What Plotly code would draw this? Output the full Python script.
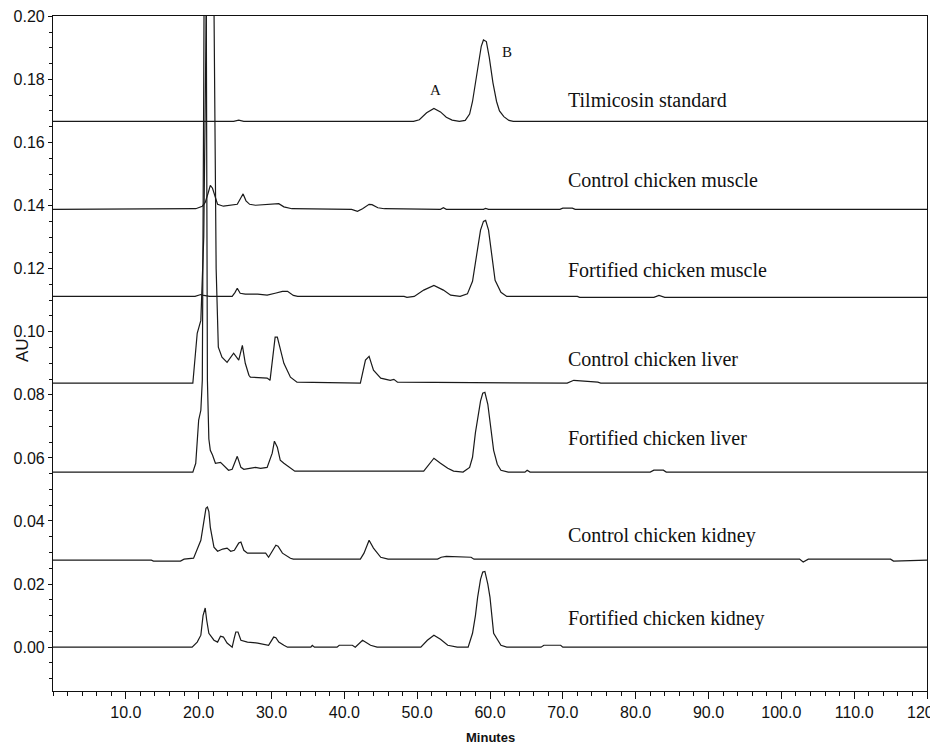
import plotly.graph_objects as go

# ---- data (minutes, AU) ----
t_standard = [0, 24.8, 25.5, 26.2, 49.5, 50.3, 51.3, 52.3, 53.2, 54.0, 54.8, 55.8, 56.6, 57.2, 57.6, 58.0,
              58.4, 58.8, 59.1, 59.5, 59.9, 60.4, 60.9, 61.3, 61.9, 62.6, 63.2, 120]
au_standard = [0.1667, 0.1667, 0.1671, 0.1667, 0.1667, 0.1672, 0.1694, 0.1708, 0.1697, 0.1680, 0.1671, 0.1667,
               0.1670, 0.1690, 0.1730, 0.1790, 0.1851, 0.1905, 0.1925, 0.1920, 0.1870, 0.1790, 0.1730, 0.1700,
               0.1682, 0.1670, 0.1667, 0.1667]

t_ctrl_muscle = [0, 18.8, 19.6, 20.5, 20.9, 21.3, 21.6, 21.9, 22.2, 22.6, 23.4, 24.4, 25.3, 25.8, 26.1, 26.5,
                 27.0, 27.8, 29.5, 30.2, 31.0, 31.7, 32.8, 41.0, 41.8, 42.5, 43.4, 43.8, 44.6, 45.5, 49.0, 49.4,
                 53.2, 53.6, 54.0, 59.1, 59.4, 59.8, 69.6, 70.0, 71.3, 71.7, 120]
au_ctrl_muscle = [0.1388, 0.1388, 0.1390, 0.1398, 0.1410, 0.1440, 0.1464, 0.1455, 0.1430, 0.1404, 0.1398,
                  0.1401, 0.1404, 0.1425, 0.1437, 0.1415, 0.1404, 0.1401, 0.1403, 0.1406, 0.1406, 0.1396,
                  0.1390, 0.1388, 0.1382, 0.1390, 0.1404, 0.1403, 0.1393, 0.1390, 0.1390, 0.1388, 0.1388,
                  0.1393, 0.1388, 0.1388, 0.1391, 0.1388, 0.1388, 0.1392, 0.1392, 0.1388, 0.1388]

t_fort_muscle = [0, 19.5, 20.3, 20.7, 21.5, 24.6, 25.0, 25.3, 25.7, 26.4, 28.1, 29.4, 30.5, 31.5, 32.2, 33.0,
                 33.6, 48.2, 48.6, 49.6, 50.9, 52.3, 53.6, 54.6, 55.9, 56.9, 57.6, 58.0, 58.3, 58.7, 59.1,
                 59.4, 59.8, 60.3, 60.7, 61.5, 62.3, 72.0, 72.3, 82.5, 83.2, 84.0, 120]
au_fort_muscle = [0.1112, 0.1112, 0.1118, 0.1115, 0.1112, 0.1112, 0.1125, 0.1138, 0.1122, 0.1119, 0.1119,
                  0.1116, 0.1122, 0.1128, 0.1128, 0.1115, 0.1112, 0.1112, 0.1109, 0.1112, 0.1132, 0.1147,
                  0.1132, 0.1116, 0.1112, 0.1120, 0.1160, 0.1217, 0.1270, 0.1322, 0.1350, 0.1353, 0.1322,
                  0.1236, 0.1163, 0.1125, 0.1112, 0.1112, 0.1109, 0.1109, 0.1115, 0.1109, 0.1109]

t_ctrl_liver = [0, 19.2, 19.8, 20.3, 20.7, 21.0, 21.3, 21.6, 21.9, 22.1, 22.4, 22.7, 23.2, 23.9, 24.4, 24.8,
                25.5, 26.0, 26.4, 26.9, 27.1, 29.4, 29.8, 30.5, 30.8, 31.7, 32.6, 33.5, 42.2, 42.9, 43.4,
                44.0, 45.0, 46.3, 46.8, 47.3, 70.6, 71.5, 74.8, 75.2, 120]
au_ctrl_liver = [0.0837, 0.0837, 0.0995, 0.1036, 0.1300, 0.1900, 0.2700, 0.3200, 0.2600, 0.1900, 0.1200,
                 0.0951, 0.0919, 0.0903, 0.0919, 0.0932, 0.0910, 0.0957, 0.0900, 0.0862, 0.0856, 0.0853,
                 0.0846, 0.0983, 0.0983, 0.0900, 0.0856, 0.0840, 0.0837, 0.0910, 0.0922, 0.0878, 0.0853,
                 0.0846, 0.0849, 0.0840, 0.0837, 0.0846, 0.0840, 0.0837, 0.0837]

t_fort_liver = [0, 19.2, 19.6, 20.0, 20.3, 20.5, 20.7, 20.9, 21.05, 21.2, 21.4, 21.6, 21.9, 22.3, 23.0, 23.4,
                24.1, 24.6, 25.0, 25.3, 25.8, 26.2, 27.0, 27.8, 28.5, 29.4, 30.1, 30.4, 30.8, 31.2, 31.7,
                32.6, 33.2, 50.9, 51.8, 52.3, 53.2, 54.2, 55.0, 56.3, 57.2, 57.6, 58.0, 58.3, 58.7, 59.0,
                59.3, 59.7, 60.1, 60.5, 61.0, 61.5, 62.5, 64.8, 65.1, 65.5, 82.0, 82.5, 83.8, 84.2, 120]
au_fort_liver = [0.0555, 0.0555, 0.0583, 0.0720, 0.0751, 0.0846, 0.1800, 0.3000, 0.2000, 0.0846, 0.0660,
                 0.0624, 0.0609, 0.0583, 0.0586, 0.0577, 0.0561, 0.0564, 0.0590, 0.0605, 0.0570, 0.0564,
                 0.0567, 0.0570, 0.0567, 0.0570, 0.0615, 0.0653, 0.0634, 0.0593, 0.0583, 0.0567, 0.0558,
                 0.0558, 0.0586, 0.0599, 0.0583, 0.0567, 0.0558, 0.0555, 0.0570, 0.0602, 0.0680, 0.0720,
                 0.0780, 0.0805, 0.0808, 0.0770, 0.0700, 0.0624, 0.0580, 0.0561, 0.0555, 0.0555, 0.0561,
                 0.0555, 0.0555, 0.0561, 0.0561, 0.0555, 0.0555]

t_ctrl_kidney = [0, 13.5, 13.8, 17.5, 18.0, 19.3, 20.3, 20.7, 21.0, 21.2, 21.4, 21.6, 22.1, 22.6, 23.3, 23.9,
                 24.4, 24.9, 25.5, 25.8, 26.2, 26.7, 29.2, 29.6, 30.3, 30.6, 30.9, 31.5, 32.6, 33.0, 42.2,
                 42.7, 43.4, 44.0, 45.0, 46.0, 52.8, 53.3, 54.0, 57.4, 57.8, 102.5, 103.0, 103.7, 115.0,
                 115.4, 120]
au_ctrl_kidney = [0.0276, 0.0276, 0.0273, 0.0273, 0.0279, 0.0282, 0.0339, 0.0403, 0.0440, 0.0444, 0.0430,
                  0.0380, 0.0317, 0.0304, 0.0311, 0.0314, 0.0304, 0.0307, 0.0330, 0.0333, 0.0307, 0.0298,
                  0.0298, 0.0285, 0.0310, 0.0323, 0.0320, 0.0298, 0.0282, 0.0279, 0.0279, 0.0298, 0.0339,
                  0.0314, 0.0285, 0.0279, 0.0279, 0.0285, 0.0288, 0.0285, 0.0279, 0.0279, 0.0270, 0.0279,
                  0.0279, 0.0273, 0.0276]

t_fort_kidney = [0, 19.1, 19.8, 20.3, 20.6, 20.9, 21.1, 21.4, 22.1, 22.6, 23.0, 23.4, 23.9, 24.6, 24.9, 25.1,
                 25.4, 25.8, 26.7, 28.1, 29.6, 30.3, 30.6, 31.0, 31.7, 32.2, 35.4, 35.6, 35.9, 39.0, 39.3,
                 41.1, 41.5, 42.5, 43.6, 44.5, 50.5, 51.4, 52.3, 53.2, 54.2, 55.5, 57.0, 57.6, 58.0, 58.3,
                 58.7, 59.0, 59.3, 59.7, 60.0, 60.5, 61.5, 62.3, 67.0, 67.4, 69.7, 70.0, 120]
au_fort_kidney = [0.0, 0.0, 0.0016, 0.0038, 0.0100, 0.0124, 0.0086, 0.0044, 0.0022, 0.0016, 0.0035, 0.0032,
                  0.0013, 0.0, 0.0030, 0.0048, 0.0048, 0.0022, 0.0016, 0.0013, 0.0006, 0.0032, 0.0030,
                  0.0016, 0.0006, 0.0, 0.0, 0.0006, 0.0, 0.0, 0.0006, 0.0006, 0.0, 0.0022, 0.0006, 0.0,
                  0.0, 0.0022, 0.0038, 0.0025, 0.0006, 0.0, 0.0, 0.0044, 0.0100, 0.0158, 0.0215, 0.0238,
                  0.0240, 0.0200, 0.0158, 0.0044, 0.0006, 0.0, 0.0, 0.0006, 0.0006, 0.0, 0.0]

trace_names = ["Tilmicosin standard", "Control chicken muscle", "Fortified chicken muscle",
               "Control chicken liver", "Fortified chicken liver", "Control chicken kidney",
               "Fortified chicken kidney"]
label_au = [0.1734, 0.1480, 0.1195, 0.0913, 0.0662, 0.0355, 0.0092]
x_tick_vals = [10, 20, 30, 40, 50, 60, 70, 80, 90, 100, 110, 120]
y_tick_vals = [0.00, 0.02, 0.04, 0.06, 0.08, 0.10, 0.12, 0.14, 0.16, 0.18, 0.20]

series = [(t_standard, au_standard), (t_ctrl_muscle, au_ctrl_muscle), (t_fort_muscle, au_fort_muscle),
          (t_ctrl_liver, au_ctrl_liver), (t_fort_liver, au_fort_liver), (t_ctrl_kidney, au_ctrl_kidney),
          (t_fort_kidney, au_fort_kidney)]

fig = go.Figure()
for (tx, ay), name in zip(series, trace_names):
    fig.add_trace(go.Scatter(x=tx, y=ay, mode="lines", name=name,
                             line=dict(color="#1a1a1a", width=1.2), showlegend=False))

serif = "Liberation Serif, Times New Roman, serif"
sans = "Liberation Sans Narrow, Arial Narrow, Liberation Sans, Arial"
annotations = []
for name, ya in zip(trace_names, label_au):
    annotations.append(dict(x=70.4, y=ya, text=name, showarrow=False, xanchor="left", yanchor="middle",
                            font=dict(family=serif, size=20, color="#111")))
annotations.append(dict(x=52.5, y=0.1765, text="A", showarrow=False, xanchor="center", yanchor="middle",
                        font=dict(family=serif, size=15, color="#111")))
annotations.append(dict(x=62.4, y=0.1886, text="B", showarrow=False, xanchor="center", yanchor="middle",
                        font=dict(family=serif, size=15, color="#111")))
# axis titles
annotations.append(dict(xref="paper", yref="paper", x=-0.0355, y=0.505, text="AU", textangle=-90,
                        showarrow=False, xanchor="center", yanchor="middle",
                        font=dict(family="Liberation Sans, Arial", size=17, color="#111")))
annotations.append(dict(xref="paper", yref="paper", x=0.5, y=-0.0696, text="<b>Minutes</b>",
                        showarrow=False, xanchor="center", yanchor="middle",
                        font=dict(family=sans, size=13, color="#111")))

tickfont = dict(family=sans, size=16, color="#111")

# the page body has an 8px margin, so the figure is sized to fit the 938x746 window
fig.update_layout(
    width=930, height=738,
    margin=dict(l=45, r=11, t=8, b=55, autoexpand=False),
    paper_bgcolor="white", plot_bgcolor="white",
    annotations=annotations,
    xaxis=dict(range=[0, 120], tickvals=x_tick_vals, tickformat=".1f", automargin=False,
               ticklabeloverflow="allow",
               ticks="outside", ticklen=7, tickwidth=1, tickcolor="#111",
               minor=dict(ticks="outside", dtick=2, tick0=0, ticklen=4, tickcolor="#111"),
               showline=True, linecolor="#111", linewidth=1.2, mirror=True,
               showgrid=False, zeroline=False, tickfont=tickfont),
    yaxis=dict(range=[-0.0139, 0.2001], tickvals=y_tick_vals, tickformat=".2f", automargin=False,
               ticklabeloverflow="allow",
               ticks="outside", ticklen=4, tickwidth=1, tickcolor="#111",
               minor=dict(ticks="outside", dtick=0.005, tick0=0, ticklen=3, tickcolor="#111"),
               showline=True, linecolor="#111", linewidth=1.2, mirror=True,
               showgrid=False, zeroline=False, tickfont=tickfont),
)

fig.write_html("out.html")
